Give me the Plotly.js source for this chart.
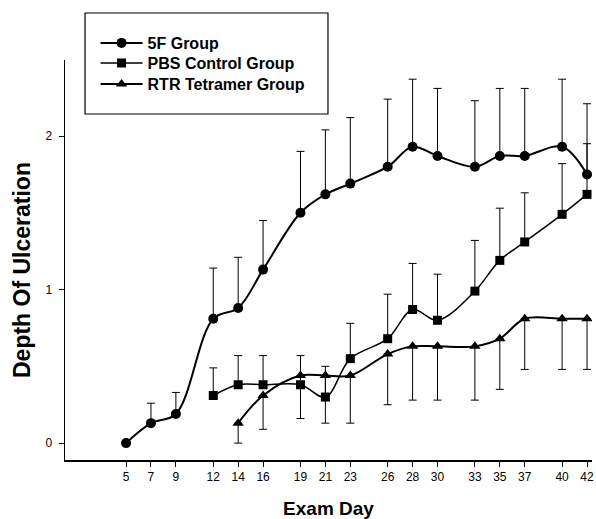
<!DOCTYPE html>
<html>
<head>
<meta charset="utf-8">
<script src="https://cdn.plot.ly/plotly-3.0.1.min.js"></script>
<style>html,body{margin:0;padding:0;background:#fff;}#chart{width:596px;height:519px;}</style>
</head>
<body>
<div id="chart"></div>
<script>
const examDays = [5, 7, 9, 12, 14, 16, 19, 21, 23, 26, 28, 30, 33, 35, 37, 40, 42];
const tickLabels = ["5","7","9","12","14","16","19","21","23","26","28","30","33","35","37","40","42"];

const days5F = [5, 7, 9, 12, 14, 16, 19, 21, 23, 26, 28, 30, 33, 35, 37, 40, 42];
const depth5F = [0, 0.13, 0.19, 0.81, 0.88, 1.13, 1.50, 1.62, 1.69, 1.80, 1.93, 1.87, 1.80, 1.87, 1.87, 1.93, 1.75];
const err5F = [0, 0.13, 0.14, 0.33, 0.33, 0.32, 0.40, 0.42, 0.43, 0.44, 0.44, 0.44, 0.43, 0.44, 0.44, 0.44, 0.46];

const daysPBS = [12, 14, 16, 19, 21, 23, 26, 28, 30, 33, 35, 37, 40, 42];
const depthPBS = [0.31, 0.38, 0.38, 0.38, 0.30, 0.55, 0.68, 0.87, 0.80, 0.99, 1.19, 1.31, 1.49, 1.62];
const errPBS = [0.18, 0.19, 0.19, 0.19, 0.20, 0.23, 0.29, 0.30, 0.30, 0.33, 0.34, 0.32, 0.33, 0.33];

const daysRTR = [14, 16, 19, 21, 23, 26, 28, 30, 33, 35, 37, 40, 42];
const depthRTR = [0.13, 0.31, 0.44, 0.44, 0.44, 0.58, 0.63, 0.63, 0.63, 0.68, 0.81, 0.81, 0.81];
const errRTR = [0.13, 0.22, 0.28, 0.31, 0.31, 0.33, 0.35, 0.35, 0.35, 0.33, 0.33, 0.33, 0.33];

const zeros = n => new Array(n).fill(0);
const font = "Liberation Sans, Arial, sans-serif";

const traces = [
  {
    name: "5F Group", x: days5F, y: depth5F, type: "scatter", mode: "lines+markers", legend: "legend",
    line: {color: "#000", width: 2, shape: "spline"},
    marker: {symbol: "circle", size: 10, color: "#000"},
    error_y: {type: "data", symmetric: false, array: err5F, arrayminus: zeros(err5F.length), color: "#000", thickness: 1, width: 4}
  },
  {
    name: "PBS Control Group", x: daysPBS, y: depthPBS, type: "scatter", mode: "lines+markers", legend: "legend2",
    line: {color: "#000", width: 1.5, shape: "spline"},
    marker: {symbol: "square", size: 9, color: "#000"},
    error_y: {type: "data", symmetric: false, array: errPBS, arrayminus: zeros(errPBS.length), color: "#000", thickness: 1, width: 4}
  },
  {
    name: "RTR Tetramer Group", x: daysRTR, y: depthRTR, type: "scatter", mode: "lines+markers", legend: "legend3",
    line: {color: "#000", width: 2, shape: "spline"},
    marker: {symbol: "triangle-up", size: 10, color: "#000"},
    error_y: {type: "data", symmetric: false, array: zeros(errRTR.length), arrayminus: errRTR, color: "#000", thickness: 1, width: 4}
  }
];

function legendAt(py) {
  return {
    x: 0.058, y: (460 - py) / 400, xanchor: "left", yanchor: "middle",
    bgcolor: "rgba(0,0,0,0)", borderwidth: 0,
    font: {family: font, size: 16, color: "#000", weight: "bold"},
    itemwidth: 42
  };
}

const layout = {
  width: 596, height: 519,
  margin: {l: 65, r: 4, t: 60, b: 59},
  paper_bgcolor: "#fff", plot_bgcolor: "#fff",
  font: {family: font, color: "#000", size: 12},
  showlegend: true,
  legend: legendAt(43),
  legend2: legendAt(63),
  legend3: legendAt(84),
  xaxis: {
    range: [0.1, 42.4],
    tickmode: "array", tickvals: examDays, ticktext: tickLabels,
    ticks: "outside", ticklen: 5, tickwidth: 1, tickcolor: "#000",
    showline: true, linecolor: "#000", linewidth: 1.5,
    showgrid: false, zeroline: false, mirror: false,
    tickfont: {family: font, size: 12, color: "#000"},
    title: {text: "Exam Day", font: {family: font, size: 19, color: "#000", weight: "bold"}, standoff: 19}
  },
  yaxis: {
    range: [-0.11, 2.495],
    tickmode: "array", tickvals: [0, 1, 2], ticktext: ["0", "1", "2"],
    ticks: "outside", ticklen: 5, tickwidth: 1, tickcolor: "#000",
    showline: true, linecolor: "#000", linewidth: 1.5,
    showgrid: false, zeroline: false, mirror: false,
    ticklabelstandoff: 4,
    tickfont: {family: font, size: 12, color: "#000"}
  },
  annotations: [
    {text: "Depth Of Ulceration", xref: "paper", yref: "paper", x: 0, y: 0.475,
     xanchor: "center", yanchor: "middle", xshift: -43, textangle: -90, showarrow: false,
     font: {family: font, size: 23, color: "#000", weight: "bold"}}
  ],
  shapes: [
    {type: "rect", xref: "paper", yref: "paper", x0: 0.038, x1: 0.499, y0: 0.865, y1: 1.1175,
     line: {color: "#000", width: 1.2}, fillcolor: "rgba(0,0,0,0)", layer: "above"}
  ]
};

Plotly.newPlot("chart", traces, layout, {displayModeBar: false, staticPlot: true});
</script>
</body>
</html>
